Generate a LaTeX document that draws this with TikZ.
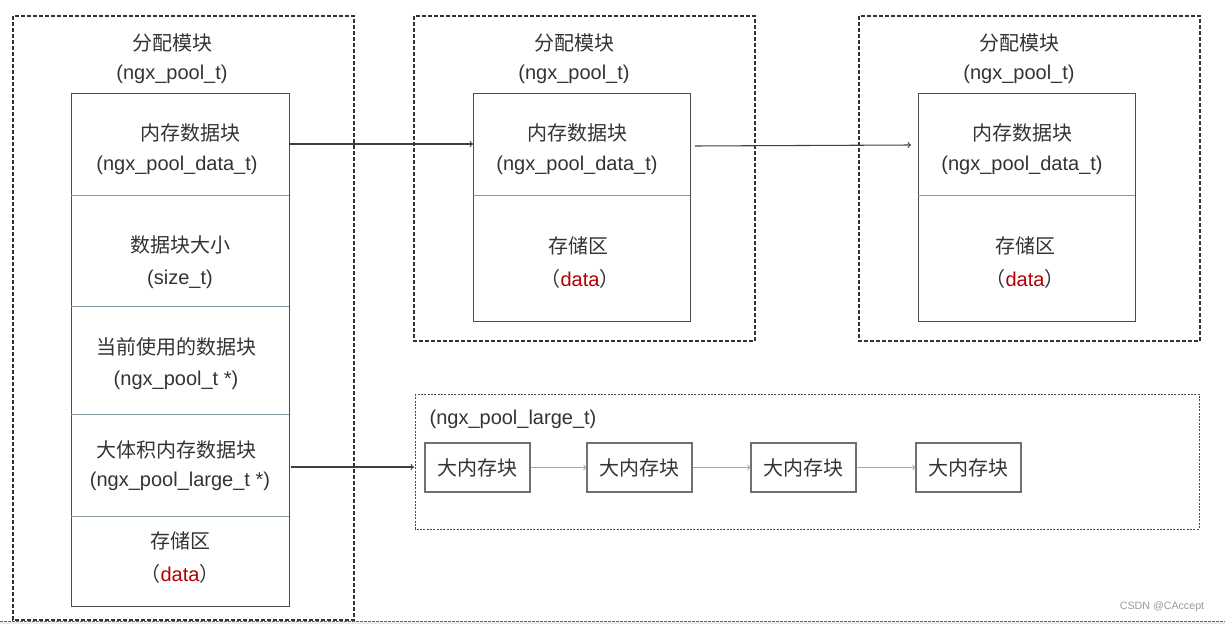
\documentclass[tikz,border=0pt]{standalone}
\usepackage{fontspec}
\setmainfont{Liberation Sans}
\newfontfamily\cjk{Noto Sans CJK SC}
\begin{document}
\begin{tikzpicture}[x=0.75pt,y=-0.75pt,
  t/.style={font=\fontsize{15}{18}\selectfont\cjk, text=black!80, inner sep=0pt},
  e/.style={font=\fontsize{15}{18}\selectfont, text=black!80, inner sep=0pt},
  outer/.style={draw=black!80, dash pattern=on 3pt off 1.5pt, line width=0.9pt},
  inner/.style={draw=black!70, line width=0.6pt},
  div/.style={draw=cyan!30!black!60, line width=0.7pt},
  arr/.style={draw=black!75, line width=0.8pt, ->},
  sarr/.style={draw=cyan!20!black!45, line width=0.7pt, ->},
  small/.style={draw=cyan!20!black!75, line width=0.8pt, minimum width=78.75pt, minimum height=36.75pt, inner sep=0pt, font=\fontsize{15}{18}\selectfont\cjk, text=black!80}]
\useasboundingbox (0,0) rectangle (1225,624);
\fill[black!8] (0,622) rectangle (1225,624);
\draw[black!60, dash pattern=on 2pt off 1pt] (0,621) -- (1225,621);
% box 1
\draw[outer] (13,16) rectangle (354,620);
\draw[inner] (71,93) rectangle (289,606);
\foreach \y in {195,306,414,516} \draw[div] (71,\y) -- (289,\y);
\node[t] (a1) at (172,43) {分配模块};
\node[e] (a2) at (172,74) {(ngx\_pool\_t)};
\node[t] (c1) at (190,133) {内存数据块};
\node[e] (c2) at (177,165) {(ngx\_pool\_data\_t)};
\node[t] (c3) at (180,245) {数据块大小};
\node[e] (c4) at (180,279) {(size\_t)};
\node[t] (c5) at (176,347) {当前使用的数据块};
\node[e] (c6) at (176,380) {(ngx\_pool\_t *)};
\node[t] (c7) at (176,450) {大体积内存数据块};
\node[e] (c8) at (180,481) {(ngx\_pool\_large\_t *)};
\node[t] (c9) at (180,541) {存储区};
\node[e] (c10) at (180,574) {{\cjk （}\textcolor{red!70!black}{data}{\cjk ）}};
\coordinate (p1) at (289,144);
\coordinate (p2) at (291,467);
% box 2
\draw[outer] (414,16) rectangle (755,341);
\draw[inner] (473,93) rectangle (690,321);
\draw[div] (473,195) -- (690,195);
\node[t] (b1) at (574,43) {分配模块};
\node[e] (b2) at (574,74) {(ngx\_pool\_t)};
\node[t] (b3) at (577,133) {内存数据块};
\node[e] (b4) at (577,165) {(ngx\_pool\_data\_t)};
\node[t] (b5) at (578,246) {存储区};
\node[e] (b6) at (580,279) {{\cjk （}\textcolor{red!70!black}{data}{\cjk ）}};
\coordinate (q1) at (473,144);
\coordinate (q2) at (695,146);
% box 3
\draw[outer] (859,16) rectangle (1200,341);
\draw[inner] (918,93) rectangle (1135,321);
\draw[div] (918,195) -- (1135,195);
\node[t] (d1) at (1019,43) {分配模块};
\node[e] (d2) at (1019,74) {(ngx\_pool\_t)};
\node[t] (d3) at (1022,133) {内存数据块};
\node[e] (d4) at (1022,165) {(ngx\_pool\_data\_t)};
\node[t] (d5) at (1025,246) {存储区};
\node[e] (d6) at (1025,279) {{\cjk （}\textcolor{red!70!black}{data}{\cjk ）}};
\coordinate (r1) at (911,145);
\draw[arr] (p1) -- (q1);
\draw[arr] (q2) -- (r1);
% large
\draw[black!70, dash pattern=on 1.5pt off 1pt, line width=0.6pt] (415,394) rectangle (1199,529);
\node[e] (lt) at (513,419) {(ngx\_pool\_large\_t)};
\node[small] (k1) at (477.5,467.5) {大内存块};
\node[small] (k2) at (639.5,467.5) {大内存块};
\node[small] (k3) at (803.5,467.5) {大内存块};
\node[small] (k4) at (968.5,467.5) {大内存块};
\coordinate (lin) at (414,467);
\draw[arr] (p2) -- (lin);
\draw[sarr] (k1) -- (k2);
\draw[sarr] (k2) -- (k3);
\draw[sarr] (k3) -- (k4);
\node[font=\fontsize{8}{10}\selectfont, text=black!40, inner sep=0pt] (wm) at (1162,607) {CSDN @CAccept};
\end{tikzpicture}
\end{document}
